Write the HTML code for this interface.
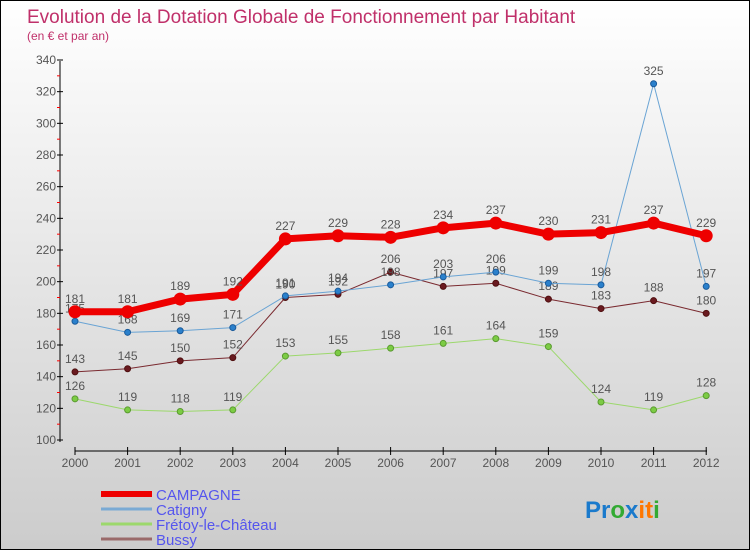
<!DOCTYPE html>
<html><head><meta charset="utf-8"><style>
body{margin:0}
#c{width:748px;height:548px;border:1px solid #000;background:linear-gradient(#fff,#ccc);position:relative;font-family:"Liberation Sans",sans-serif;overflow:hidden}
</style></head><body>
<div id="c">
<svg id="s" width="748" height="548"></svg>
</div>
<script>
const years=["2000","2001","2002","2003","2004","2005","2006","2007","2008","2009","2010","2011","2012"];
const campagne=[181,181,189,192,227,229,228,234,237,230,231,237,229];
const catigny=[175,168,169,171,191,194,198,203,206,199,198,325,197];
const fretoy=[126,119,118,119,153,155,158,161,164,159,124,119,128];
const bussy=[143,145,150,152,190,192,206,197,199,189,183,188,180];
const yTicks=[100,120,140,160,180,200,220,240,260,280,300,320,340];
const NS="http://www.w3.org/2000/svg";
const s=document.getElementById('s');
function X(i){return 74+i*52.6;}
function Y(v){return 439-(v-100)*(380/240);}
function el(t,a,p){const e=document.createElementNS(NS,t);for(const k in a)e.setAttribute(k,a[k]);(p||s).appendChild(e);return e;}
function tx(x,y,str,a,p){const e=el('text',Object.assign({x:x,y:y},a),p);e.textContent=str;return e;}
let t=tx(26,22,"Evolution de la Dotation Globale de Fonctionnement par Habitant",{fill:"#c0306a","font-size":19});

t=tx(26,39,"(en € et par an)",{fill:"#c0306a","font-size":12});

let ax=el('line',{x1:59,y1:60,x2:59,y2:441,stroke:"#000"});

ax=el('line',{x1:74,y1:450,x2:706,y2:450,stroke:"#000"});

yTicks.forEach((v,i)=>{const y=Y(v);el('line',{x1:56,y1:y,x2:62,y2:y,stroke:"#000"});
 if(i<yTicks.length-1){el('line',{x1:56,y1:Y(v+10),x2:59,y2:Y(v+10),stroke:"#f00"});}
 const l=tx(55,y+4,String(v),{"text-anchor":"end","font-size":12,fill:"#555"});
 });
years.forEach((yr,i)=>{el('line',{x1:X(i),y1:446,x2:X(i),y2:454,stroke:"#000"});
 const l=tx(X(i),466,yr,{"text-anchor":"middle","font-size":12,fill:"#555"});
 });
function series(d,col,w,name,pt,labels){
 const g=el('g',{});
 el('polyline',{points:d.map((v,i)=>X(i)+","+Y(v)).join(" "),fill:"none",stroke:col,"stroke-width":w,"stroke-linejoin":"round"},g);
 d.forEach((v,i)=>{const c=el('circle',{cx:X(i),cy:Y(v),r:pt.r,fill:pt.f,stroke:pt.s,"stroke-width":1},g);
  
  if(labels){const l=tx(X(i),Y(v)-9,String(v),{"text-anchor":"middle","font-size":12,fill:"#555"},g);
  }});
}
series(bussy,"#7a2a30",1,"bussy",{r:3,f:"#6a1a20",s:"#501010"},true);
series(fretoy,"#9cd86c",1,"fretoy",{r:3,f:"#7ccc44",s:"#5a9a30"},true);
series(catigny,"#6aa4d4",1,"catigny",{r:3,f:"#2a80cc",s:"#1a5a9a"},true);
series(campagne,"#ee0000",7,"campagne",{r:6,f:"#ee0000",s:"#ee0000"},true);
const leg=[["CAMPAGNE","#ee0000",6,493],["Catigny","#7aaad4",3,508],["Frétoy-le-Château","#9cd86c",3,523],["Bussy","#9a6a6a",3,538]];
leg.forEach(l=>{const g=el('g',{});
 el('rect',{x:100,y:l[3]-l[2]/2,width:51,height:l[2],fill:l[1]},g);
 tx(155,l[3]+6,l[0],{fill:"#5555ee","font-size":15},g);});
const lg=tx(584,517,"",{"font-size":24,"font-weight":"bold"});

const cols=["#1a7acc","#1a7acc","#33aa33","#1a7acc","#ff7700","#ff7700","#33aa33"];
"Proxiti".split("").forEach((ch,i)=>{const sp=el('tspan',{fill:cols[i]},lg);sp.textContent=ch;});
</script>
</body></html>
